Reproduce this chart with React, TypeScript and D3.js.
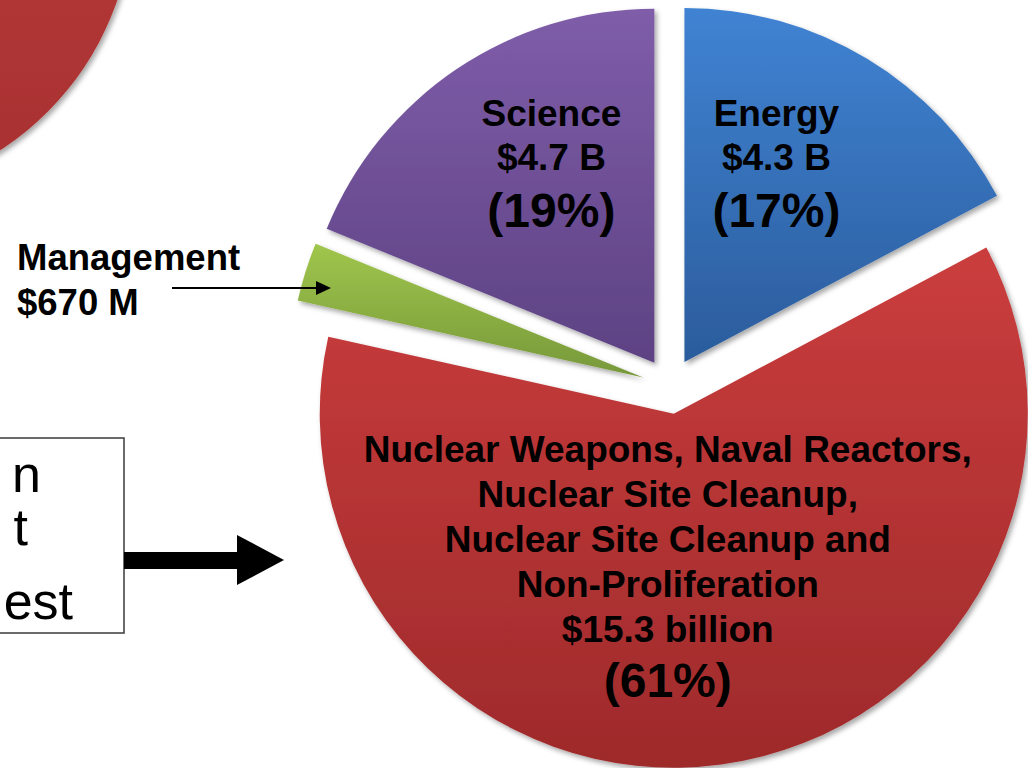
import React from "react";
import * as d3 from "d3";

// ---- data ----
const categories = ["Energy", "Nuclear Weapons", "Management", "Science"];
const values = [4.3, 15.3, 0.67, 4.7];
const amountLabels = ["$4.3 B", "$15.3 billion", "$670 M", "$4.7 B"];
const percentLabels = ["(17%)", "(61%)", "", "(19%)"];
const weaponsLines = [
  "Nuclear Weapons, Naval Reactors,",
  "Nuclear Site Cleanup,",
  "Nuclear Site Cleanup and",
  "Non-Proliferation",
];
const boxFragments = ["n", "t", "est"];

// ---- styles ----
const gradTop = ["#4083d3", "#cb3d3d", "#a0c64c", "#7f5da9"];
const gradBottom = ["#2b5c9c", "#9e2a2b", "#77983a", "#5d4283"];
const FONT = "'Liberation Sans', Arial, Helvetica, sans-serif";

export default function App() {
  const W = 1028;
  const H = 768;
  const cx = 670;
  const cy = 386;
  const R = 354;
  const explode = 28;

  const pie = d3
    .pie<number>()
    .sort(null)
    .value((d) => d)
    .startAngle(0)
    .endAngle(2 * Math.PI);
  const arcs = pie(values);
  const arcGen = d3.arc<d3.PieArcDatum<number>>().innerRadius(0).outerRadius(R);

  const offsets = arcs.map((a) => {
    const m = (a.startAngle + a.endAngle) / 2;
    return [explode * Math.sin(m), -explode * Math.cos(m)];
  });

  const apex = (i: number) => [cx + offsets[i][0], cy + offsets[i][1]];
  const eA = apex(0);
  const sA = apex(3);
  const rA = apex(1);

  const bigTxt = { fontFamily: FONT, fontWeight: 700, fill: "#000", textAnchor: "middle" as const };

  return (
    <svg
      width={W}
      height={H}
      style={{ position: "absolute", left: 0, top: 0, background: "#fff" }}
    >
      <defs>
        <filter id="shadow" x="-10%" y="-10%" width="120%" height="120%">
          <feDropShadow dx="2.5" dy="3" stdDeviation="2.5" floodColor="#000" floodOpacity="0.35" />
        </filter>
        {arcs.map((_, i) => (
          <linearGradient key={i} id={`g${i}`} x1="0" y1="0" x2="0" y2="1">
            <stop offset="0%" stopColor={gradTop[i]} />
            <stop offset="100%" stopColor={gradBottom[i]} />
          </linearGradient>
        ))}
        <linearGradient id="gOther" x1="0" y1="0" x2="0" y2="1">
          <stop offset="0%" stopColor="#c03a3a" />
          <stop offset="100%" stopColor="#a83232" />
        </linearGradient>
      </defs>

      {/* partial pie from a neighbouring chart */}
      <circle cx={-158} cy={-94} r={291} fill="url(#gOther)" filter="url(#shadow)" />

      {/* slices */}
      {arcs.map((a, i) => (
        <path
          key={categories[i]}
          d={arcGen(a) || ""}
          transform={`translate(${cx + offsets[i][0]},${cy + offsets[i][1]})`}
          fill={`url(#g${i})`}
          filter="url(#shadow)"
        />
      ))}

      {/* Science label */}
      <g {...bigTxt}>
        <text x={sA[0] - 103} y={126} fontSize={37}>{categories[3]}</text>
        <text x={sA[0] - 103} y={170} fontSize={37}>{amountLabels[3]}</text>
        <text x={sA[0] - 103} y={227} fontSize={48}>{percentLabels[3]}</text>
      </g>
      {/* Energy label */}
      <g {...bigTxt}>
        <text x={eA[0] + 92} y={126} fontSize={37}>{categories[0]}</text>
        <text x={eA[0] + 92} y={170} fontSize={37}>{amountLabels[0]}</text>
        <text x={eA[0] + 92} y={227} fontSize={48}>{percentLabels[0]}</text>
      </g>
      {/* Weapons label */}
      <g {...bigTxt}>
        {weaponsLines.map((l, k) => (
          <text key={k} x={rA[0] - 6} y={462 + k * 45} fontSize={37}>{l}</text>
        ))}
        <text x={rA[0] - 6} y={642} fontSize={37}>{amountLabels[1]}</text>
        <text x={rA[0] - 6} y={697} fontSize={48}>{percentLabels[1]}</text>
      </g>

      {/* Management callout */}
      <g fontFamily={FONT} fontWeight={700} fontSize={36.5} fill="#000">
        <text x={17} y={270}>{categories[2]}</text>
        <text x={17} y={315}>{amountLabels[2]}</text>
      </g>
      <line x1={172} y1={288} x2={318} y2={288} stroke="#000" strokeWidth={2} />
      <path d="M316,281 L331,288 L316,295 Z" fill="#000" />

      {/* text box on the left */}
      <rect x={-10} y={438} width={134} height={195} fill="#fff" stroke="#3a3a3a" strokeWidth={1.5} />
      <g fontFamily={FONT} fontSize={52} fill="#000" textAnchor="end">
        <text x={41} y={492}>{boxFragments[0]}</text>
        <text x={28} y={545}>{boxFragments[1]}</text>
        <text x={73} y={619}>{boxFragments[2]}</text>
      </g>

      {/* big arrow */}
      <rect x={124} y={552} width={114} height={17} fill="#000" />
      <path d="M237,535 L284,560 L237,585 Z" fill="#000" />
    </svg>
  );
}
